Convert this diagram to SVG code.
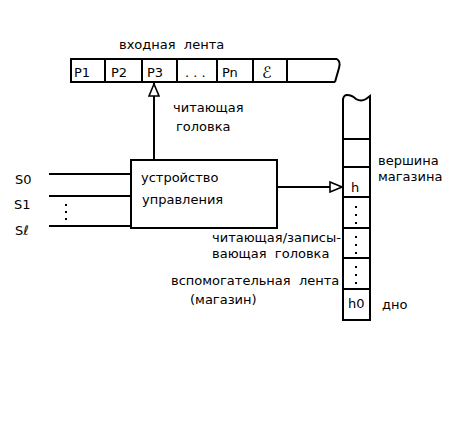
<svg xmlns="http://www.w3.org/2000/svg" width="473" height="422" viewBox="0 0 473 422">
<style>
text{font-family:"DejaVu Sans","Liberation Sans",sans-serif;font-size:13px;fill:#000;white-space:pre}
.ln{stroke:#000;stroke-width:2;fill:none}
.bx{stroke:#000;stroke-width:2;fill:#fff}
.dot{fill:#000}
</style>
<defs>
<marker id="tri" viewBox="0 0 14 12" refX="14" refY="6" markerWidth="14" markerHeight="12" markerUnits="userSpaceOnUse" orient="auto">
<path d="M1,1 L13,6 L1,11 Z" fill="#fff" stroke="#000" stroke-width="1.6"/>
</marker>
</defs>
<rect width="473" height="422" fill="#fff"/>

<g id="input-tape">
<text x="119" y="49" xml:space="preserve">входная  лента</text>
<path class="ln" d="M337,59 L71,59 L71,82 L335,82 M337,59 Q341,62 339,68 L335,82"/>
<path class="ln" d="M105,59 V82 M142,59 V82 M177,59 V82 M217,59 V82 M253,59 V82 M287,59 V82"/>
<text x="74" y="77">P1</text>
<text x="111" y="77">P2</text>
<text x="147" y="77">P3</text>
<text x="185" y="77">. . .</text>
<text x="222" y="77">Pn</text>
<text x="262" y="78" style="font-size:16px">ℰ</text>
</g>

<g id="read-head-label">
<text x="173" y="112">читающая</text>
<text x="176" y="131">головка</text>
</g>

<g id="control">
<rect class="bx" x="131" y="160" width="146" height="68"/>
<text x="141" y="182">устройство</text>
<text x="142" y="204">управления</text>
</g>

<g id="states">
<text x="15" y="184">S0</text>
<text x="14" y="209">S1</text>
<text x="15" y="235">Sℓ</text>
<rect class="dot" x="65" y="204" width="2" height="2"/>
<rect class="dot" x="65" y="211" width="2" height="2"/>
<rect class="dot" x="65" y="218" width="2" height="2"/>
</g>

<g id="stack">
<path class="ln" d="M343,320 L343,99 Q344,95 347,95 Q352,95 356,99 Q361,102 366,99 L370,96 L370,320 Z"/>
<path class="ln" d="M343,139 H370 M343,167 H370 M343,197 H370 M343,228 H370 M343,258 H370 M343,289 H370"/>
<text x="351" y="192">h</text>
<text x="348" y="308">h0</text>
<rect class="dot" x="355" y="206" width="2" height="2"/>
<rect class="dot" x="355" y="214" width="2" height="2"/>
<rect class="dot" x="355" y="222" width="2" height="2"/>
<rect class="dot" x="355" y="236" width="2" height="2"/>
<rect class="dot" x="355" y="244" width="2" height="2"/>
<rect class="dot" x="355" y="252" width="2" height="2"/>
<rect class="dot" x="355" y="266" width="2" height="2"/>
<rect class="dot" x="355" y="274" width="2" height="2"/>
<rect class="dot" x="355" y="282" width="2" height="2"/>
</g>

<g id="stack-labels">
<text x="378" y="165">вершина</text>
<text x="378" y="181">магазина</text>
<text x="212" y="242">читающая/записы-</text>
<text x="212" y="258" xml:space="preserve">вающая  головка</text>
<text x="171" y="285" xml:space="preserve">вспомогательная  лента</text>
<text x="190" y="304">(магазин)</text>
<text x="382" y="309">дно</text>
</g>

<g id="connectors">
<path class="ln" d="M154,160 V83" marker-end="url(#tri)"/>
<path class="ln" d="M277,187 H343" marker-end="url(#tri)"/>
<path class="ln" d="M49,174 H131 M49,196 H131 M49,226 H131"/>
</g>
</svg>
